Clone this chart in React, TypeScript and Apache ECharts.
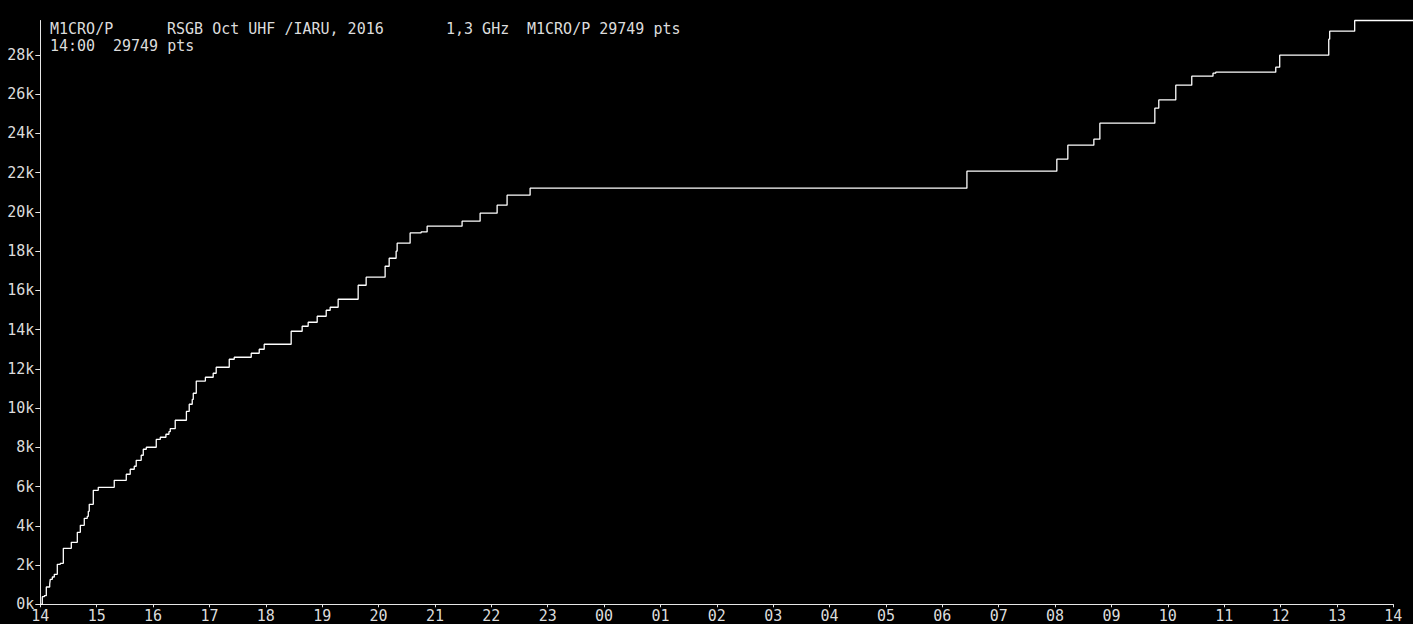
import React, { useEffect, useRef } from "react";
import * as echarts from "echarts";

// Contest log: minutes since 14:00 (start) at which the cumulative score stepped up
const qsoMinutes = [
  0, 2.1, 4.3, 6.4, 10.0, 10.6, 12.8, 14.9, 18.1, 21.3, 24.5, 33.0, 39.4, 42.6, 46.8, 50.0,
  51.1, 52.1, 56.4, 61.7, 78.7, 91.5, 95.7, 100.0, 102.1, 107.4, 109.6, 112.8, 123.4, 127.7,
  133.7, 136.9, 138.3, 143.6, 155.5, 158.5, 161.7, 162.8, 166.0, 175.7, 184.0, 187.2, 201.1,
  206.4, 224.5, 233.0, 238.3, 267.0, 278.7, 285.1, 294.7, 304.3, 308.5, 317.0, 338.3, 346.8,
  367.0, 371.3, 378.7, 379.8, 393.6, 405.3, 411.7, 448.9, 468.1, 486.2, 496.8, 521.3, 986.2,
  1081.9, 1093.6, 1121.3, 1127.7, 1186.2, 1190.4, 1208.5, 1225.5, 1248.1, 1251.0, 1314.9,
  1319.1, 1371.3, 1372.3, 1398.9, 1461,
];
const cumulativePoints = [
  0, 387, 438, 882, 1035, 1274, 1391, 1529, 2039, 2090, 2854, 3160, 3670, 4026, 4383, 4485,
  4740, 5097, 5810, 5963, 6320, 6626, 6881, 7034, 7339, 7594, 7900, 8002, 8400, 8512,
  8665, 8797, 8950, 9378, 9830, 10194, 10440, 10754, 11375, 11570, 11774, 12080, 12487,
  12589, 12793, 12997, 13252, 13914, 14169, 14373, 14679, 14985, 15138, 15545, 16259, 16667,
  17227, 17635, 17992, 18400, 18925, 18976, 19266, 19521, 19929, 20336, 20846, 21203, 22069,
  22681, 23395, 23700, 24516, 25280, 25703, 26453, 26911, 27064, 27115, 27370,
  27982, 28797, 29205, 29749, 29749,
];

const hourLabels = [
  "14", "15", "16", "17", "18", "19", "20", "21", "22", "23", "00", "01", "02",
  "03", "04", "05", "06", "07", "08", "09", "10", "11", "12", "13", "14",
];
const yTickValues = [0, 2000, 4000, 6000, 8000, 10000, 12000, 14000, 16000, 18000, 20000, 22000, 24000, 26000, 28000];
const finalScore = 29749;
const axisMinutes = 1440;

const headerLine1 = [
  { text: "M1CRO/P", col: 0 },
  { text: "RSGB Oct UHF /IARU, 2016", col: 13 },
  { text: "1,3 GHz", col: 44 },
  { text: "M1CRO/P 29749 pts", col: 53 },
];
const headerLine2 = [
  { text: "14:00", col: 0 },
  { text: "29749 pts", col: 7 },
];

const FONT = "'DejaVu Sans Mono', monospace";
const TEXT_COLOR = "#dcdcdc";
const AXIS_COLOR = "#e6e6e6";

export default function App() {
  const ref = useRef<HTMLDivElement>(null);

  useEffect(() => {
    document.body.style.margin = "0";
    document.body.style.background = "#000";
    if (!ref.current) return;
    const chart = echarts.init(ref.current, undefined, { renderer: "svg" });

    const W = 1413;
    const gridLeft = 40.3;
    const gridRight = 19.7;
    const plotW = W - gridLeft - gridRight;
    // plot area for the trace extends to the right edge of the picture (same time scale)
    const traceMax = (axisMinutes * (W - gridLeft)) / plotW;

    const data = qsoMinutes.map((m, i) => [m, cumulativePoints[i]]);
    const charW = 9;
    const headerX = 50;
    const graphics: any[] = [];
    headerLine1.forEach((h) =>
      graphics.push({
        type: "text",
        x: headerX + h.col * charW,
        y: 29,
        style: { text: h.text, fill: TEXT_COLOR, font: `15px ${FONT}`, textVerticalAlign: "middle" },
      })
    );
    headerLine2.forEach((h) =>
      graphics.push({
        type: "text",
        x: headerX + h.col * charW,
        y: 45.5,
        style: { text: h.text, fill: TEXT_COLOR, font: `15px ${FONT}`, textVerticalAlign: "middle" },
      })
    );

    chart.setOption({
      animation: false,
      backgroundColor: "#000000",
      grid: [
        { left: gridLeft, right: gridRight, top: 20.5, bottom: 19.7, containLabel: false },
        { left: gridLeft, right: 0, top: 20.5, bottom: 19.7, containLabel: false },
      ],
      xAxis: [
        {
          type: "value",
          gridIndex: 0,
          min: 0,
          max: axisMinutes,
          interval: 60,
          axisLine: { show: true, lineStyle: { color: AXIS_COLOR, width: 1 } },
          axisTick: { show: true, length: 3, lineStyle: { color: AXIS_COLOR } },
          splitLine: { show: false },
          axisLabel: {
            color: TEXT_COLOR,
            fontFamily: FONT,
            fontSize: 15,
            margin: 4,
            formatter: (v: number) => hourLabels[Math.round(v / 60)] ?? "",
          },
        },
        {
          type: "value",
          gridIndex: 1,
          min: 0,
          max: traceMax,
          show: false,
        },
      ],
      yAxis: [
        {
          type: "value",
          gridIndex: 0,
          min: 0,
          max: finalScore,
          interval: 2000,
          axisLine: { show: true, lineStyle: { color: AXIS_COLOR, width: 1 } },
          axisTick: { show: true, length: 5, customValues: yTickValues, lineStyle: { color: AXIS_COLOR } },
          splitLine: { show: false },
          axisLabel: {
            color: TEXT_COLOR,
            fontFamily: FONT,
            fontSize: 15,
            margin: 6,
            customValues: yTickValues,
            formatter: (v: number) => `${Math.round(v / 1000)}k`,
          },
        },
        {
          type: "value",
          gridIndex: 1,
          min: 0,
          max: finalScore,
          show: false,
        },
      ],
      series: [
        {
          type: "line",
          xAxisIndex: 1,
          yAxisIndex: 1,
          step: "end",
          data,
          clip: false,
          symbol: "none",
          lineStyle: { color: "#ffffff", width: 1.3 },
        },
      ],
      graphic: graphics,
    });

    return () => chart.dispose();
  }, []);

  return <div ref={ref} style={{ width: 1413, height: 624, background: "#000" }} />;
}
